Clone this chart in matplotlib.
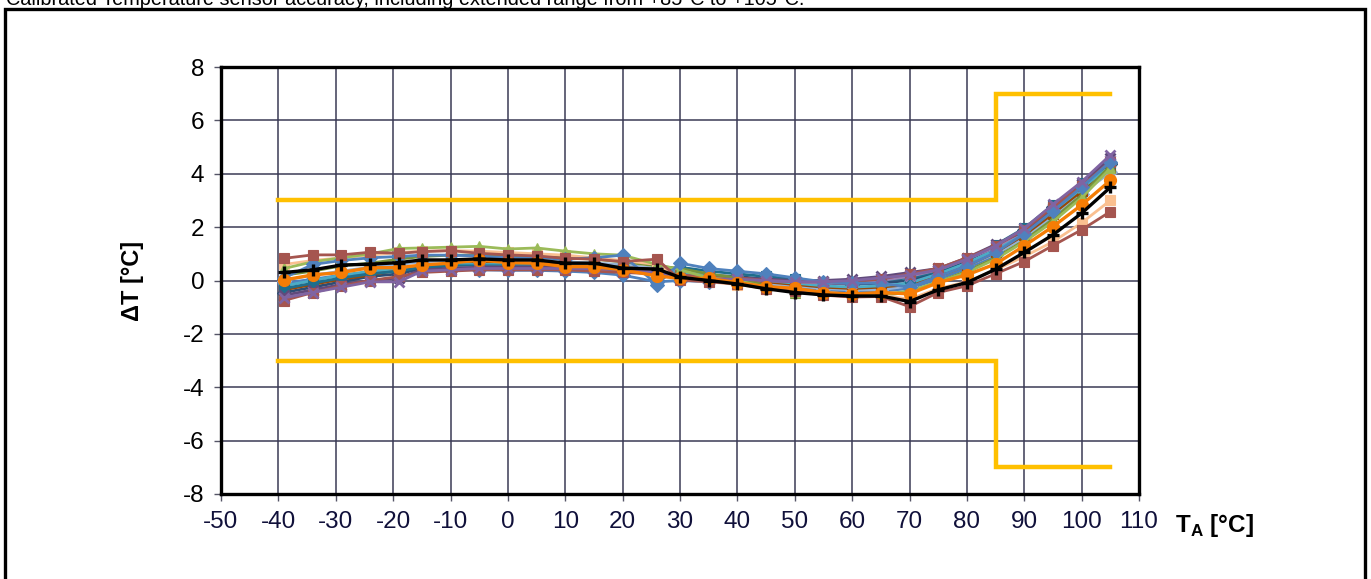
import numpy as np
import matplotlib.pyplot as plt
from matplotlib.patches import Rectangle

plt.rcParams['font.family'] = ['Liberation Sans', 'DejaVu Sans']
plt.rcParams['axes.unicode_minus'] = False
plt.rcParams['mathtext.fontset'] = 'custom'
plt.rcParams['mathtext.rm'] = 'Liberation Sans'
plt.rcParams['mathtext.bf'] = 'Liberation Sans:bold'

# Ambient temperature points (°C)
temps = [-39, -34, -29, -24, -19, -15, -10, -5, 0, 5, 10, 15, 20, 26, 30,
         35, 40, 45, 50, 55, 60, 65, 70, 75, 80, 85, 90, 95, 100, 105]

# Accuracy limits
limit_t = [-40, 85, 85, 105]
limit_hi = [3, 3, 7, 7]
limit_lo = [-3, -3, -7, -7]

# Individual devices (delta T in °C)
dev_blue_a = [0.10, 0.60, 0.75, 0.85, 0.90, 0.95, 0.95, 0.92, 0.85, 0.85, 0.80, 0.85, 0.95, -0.15, 0.65,
              0.45, 0.35, 0.25, 0.10, -0.05, -0.10, -0.10, -0.25, 0.15, 0.55, 1.05, 1.75, 2.60, 3.50, 4.45]
dev_red_a = [0.83, 0.96, 0.96, 1.06, 1.02, 1.08, 1.12, 1.02, 0.96, 0.92, 0.83, 0.80, 0.71, 0.80, 0.02,
             -0.05, -0.12, -0.30, -0.40, -0.55, -0.62, -0.60, -0.98, -0.45, -0.20, 0.25, 0.71, 1.31, 1.90, 2.58]
dev_green_a = [0.45, 0.70, 0.85, 1.00, 1.20, 1.22, 1.25, 1.28, 1.18, 1.22, 1.10, 1.00, 0.95, 0.60, 0.40,
               0.10, 0.00, -0.25, -0.42, -0.50, -0.55, -0.52, -0.40, -0.05, 0.30, 0.80, 1.45, 2.20, 3.10, 4.20]
dev_purple_a = [-0.65, -0.45, -0.25, -0.05, -0.05, 0.35, 0.40, 0.45, 0.45, 0.45, 0.45, 0.45, 0.40, 0.30, 0.10,
                0.05, 0.05, 0.00, -0.05, -0.05, 0.00, 0.10, 0.20, 0.40, 0.80, 1.30, 1.95, 2.85, 3.70, 4.70]
dev_aqua_a = [-0.20, 0.00, 0.20, 0.35, 0.45, 0.55, 0.60, 0.60, 0.60, 0.60, 0.55, 0.55, 0.50, 0.35, 0.30,
              0.20, 0.10, 0.00, -0.10, -0.20, -0.25, -0.20, -0.10, 0.25, 0.65, 1.15, 1.80, 2.60, 3.45, 4.30]
dev_lorange = [0.60, 0.75, 0.85, 0.95, 1.05, 1.10, 1.12, 1.10, 1.05, 1.00, 0.95, 0.85, 0.75, 0.60, 0.05,
               -0.05, -0.15, -0.30, -0.40, -0.50, -0.55, -0.55, -0.70, -0.30, -0.05, 0.40, 0.90, 1.45, 2.16, 3.00]
dev_dblue = [-0.45, -0.25, -0.05, 0.15, 0.25, 0.45, 0.50, 0.50, 0.50, 0.50, 0.50, 0.45, 0.40, 0.30, 0.30,
             0.20, 0.15, 0.05, 0.00, -0.10, -0.15, -0.10, 0.00, 0.30, 0.75, 1.25, 1.90, 2.75, 3.55, 4.35]
dev_red_b = [-0.75, -0.45, -0.20, 0.00, 0.15, 0.30, 0.35, 0.40, 0.40, 0.40, 0.40, 0.35, 0.30, 0.25, 0.20,
             0.15, 0.10, 0.00, -0.05, -0.05, -0.05, 0.05, 0.25, 0.45, 0.85, 1.30, 1.90, 2.75, 3.55, 4.45]
dev_green_b = [0.20, 0.35, 0.55, 0.65, 0.80, 0.90, 0.95, 0.95, 0.90, 0.90, 0.85, 0.80, 0.70, 0.55, 0.45,
               0.25, 0.10, -0.20, -0.45, -0.50, -0.55, -0.55, -0.45, -0.05, 0.35, 0.85, 1.50, 2.30, 3.20, 4.30]
dev_purple_b = [-0.55, -0.35, -0.15, 0.00, 0.10, 0.40, 0.45, 0.50, 0.50, 0.50, 0.50, 0.45, 0.40, 0.30, 0.15,
                0.10, 0.10, 0.05, 0.00, 0.00, 0.05, 0.15, 0.30, 0.45, 0.85, 1.35, 1.85, 2.65, 3.60, 4.60]
dev_teal = [-0.30, -0.10, 0.10, 0.25, 0.35, 0.50, 0.55, 0.55, 0.55, 0.55, 0.55, 0.50, 0.45, 0.35, 0.50,
            0.35, 0.25, 0.15, 0.05, -0.05, -0.05, 0.00, 0.10, 0.35, 0.80, 1.33, 1.96, 2.83, 3.65, 4.40]
dev_brown = [-0.35, -0.15, 0.05, 0.20, 0.40, 0.55, 0.60, 0.65, 0.65, 0.65, 0.60, 0.55, 0.50, 0.40, 0.20,
             0.10, 0.05, -0.05, -0.15, -0.25, -0.30, -0.25, -0.15, 0.15, 0.55, 1.05, 1.70, 2.50, 3.35, 4.20]
dev_blue_b = [-0.10, 0.05, 0.20, 0.30, 0.35, 0.40, 0.40, 0.40, 0.38, 0.38, 0.35, 0.30, 0.20, -0.05, 0.00,
              -0.05, -0.10, -0.20, -0.30, -0.35, -0.40, -0.40, -0.30, 0.05, 0.45, 0.95, 1.65, 2.50, 3.40, 4.40]
dev_lblue = [0.00, 0.20, 0.35, 0.50, 0.60, 0.70, 0.75, 0.75, 0.72, 0.72, 0.70, 0.65, 0.60, 0.45, 0.25,
             0.15, 0.05, -0.10, -0.20, -0.30, -0.35, -0.35, -0.20, 0.15, 0.55, 1.00, 1.60, 2.40, 3.25, 4.05]
dev_lpurple = [-0.60, -0.40, -0.20, -0.02, 0.10, 0.35, 0.45, 0.50, 0.50, 0.50, 0.48, 0.45, 0.40, 0.30, 0.20,
               0.10, 0.05, 0.00, -0.05, -0.10, -0.10, 0.00, 0.15, 0.40, 0.80, 1.25, 1.85, 2.70, 3.60, 4.50]
dev_orange = [0.02, 0.21, 0.30, 0.48, 0.48, 0.58, 0.65, 0.77, 0.67, 0.65, 0.52, 0.52, 0.40, 0.17, 0.08,
              0.08, -0.08, -0.23, -0.29, -0.45, -0.51, -0.45, -0.50, -0.08, 0.21, 0.62, 1.30, 2.02, 2.83, 3.75]
dev_black = [0.30, 0.40, 0.58, 0.61, 0.67, 0.77, 0.77, 0.81, 0.77, 0.77, 0.65, 0.65, 0.46, 0.43, 0.12,
             0.00, -0.13, -0.31, -0.45, -0.54, -0.58, -0.58, -0.79, -0.35, -0.08, 0.42, 1.05, 1.71, 2.52, 3.49]

# (values, colour, marker)
devices = [
    (dev_blue_b, '#4F81BD', 'D'),
    (dev_lblue, '#95B3D7', 'D'),
    (dev_dblue, '#2C4D75', 'D'),
    (dev_brown, '#984807', 's'),
    (dev_aqua_a, '#4BACC6', '*'),
    (dev_teal, '#1F6E8C', 's'),
    (dev_lpurple, '#9983B5', 'x'),
    (dev_purple_b, '#604A7B', 'x'),
    (dev_red_b, '#A5554F', 's'),
    (dev_green_b, '#77933C', '^'),
    (dev_lorange, '#FAC090', 's'),
    (dev_green_a, '#9BBB59', '^'),
    (dev_blue_a, '#4F81BD', 'D'),
    (dev_purple_a, '#8064A2', 'x'),
    (dev_red_a, '#A5554F', 's'),
]

fig = plt.figure(figsize=(13.71, 5.79), dpi=100)
ax = fig.add_axes([221 / 1371, 85 / 579, 918 / 1371, 427 / 579])

# limit lines
ax.plot(limit_t, limit_hi, color='#FFC000', lw=3.2, solid_joinstyle='miter', zorder=2)
ax.plot(limit_t, limit_lo, color='#FFC000', lw=3.2, solid_joinstyle='miter', zorder=2)

for vals, col, mk in devices:
    ax.plot(temps, vals, color=col, lw=2.0, marker=mk, ms=7 if mk != '*' else 9,
            mew=2.0 if mk == 'x' else 0.8, mec=col, zorder=3)

ax.plot(temps, dev_orange, color='#F57D05', lw=2.4, marker='o', ms=8.5, mec='#F57D05', zorder=4)
ax.plot(temps, dev_black, color='black', lw=2.4, marker='+', ms=9, mew=2.4, zorder=5)

ax.set_xlim(-50, 110)
ax.set_ylim(-8, 8)
ax.set_xticks(np.arange(-50, 111, 10))
ax.set_yticks(np.arange(-8, 9, 2))
ax.grid(True, color='#3a3a55', lw=1.1)
ax.set_axisbelow(True)
for sp in ax.spines.values():
    sp.set_linewidth(2.4)
ax.tick_params(axis='x', length=5, width=1, color='#555566', pad=7, labelsize=17.5, labelcolor='#10103a')
ax.tick_params(axis='y', length=5, width=1, color='#555566', pad=7, labelsize=17.5, labelcolor='black')

ax.set_ylabel('ΔT [°C]', fontsize=17, fontweight='bold', labelpad=28)
fig.text(1175 / 1371, 1 - 532 / 579, r'T$_\mathbf{A}$ [°C]', fontsize=17.5, fontweight='bold',
         ha='left', va='baseline')

# outer frame and clipped caption
fig.patches.append(Rectangle((5 / 1371, -0.05), 1360 / 1371, 1.05 - 9 / 579, transform=fig.transFigure,
                             fill=False, ec='black', lw=2.4, clip_on=False))
fig.text(6 / 1371, 1 - 5 / 579, 'Calibrated Temperature sensor accuracy, including extended range from +85°C to +105°C.',
         fontsize=14.3, ha='left', va='baseline')

fig.savefig('out.png', dpi=100)
